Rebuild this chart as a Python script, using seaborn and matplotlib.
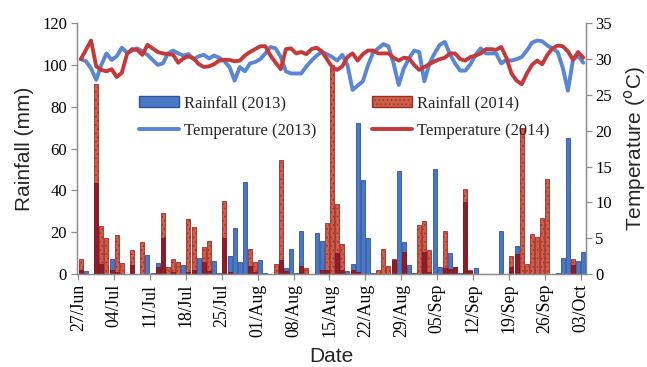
import numpy as np
import pandas as pd
import seaborn as sns
import matplotlib.pyplot as plt
from matplotlib.patches import Patch
from matplotlib.lines import Line2D

# daily rainfall (mm), 27 Jun .. 03 Oct
rain_2013 = [1.9, 1.2, 0, 43.8, 4.7, 0, 7.2, 1.0, 0, 0,
             4.2, 0, 0, 9.1, 0.4, 5.3, 17.1, 0, 1.0, 0,
             4.3, 1.0, 1.9, 7.7, 5.6, 1.2, 6.3, 0.5, 17.2, 8.8,
             21.8, 5.6, 44.2, 3.9, 1.0, 6.9, 0.3, 0, 0, 6.7,
             3.1, 12.0, 0.4, 20.6, 0, 0, 19.5, 15.8, 2.0, 0,
             10.2, 2.0, 1.6, 4.8, 72.2, 44.8, 17.3, 0.5, 0, 0,
             0, 6.8, 49.5, 15.2, 4.3, 0, 0, 10.5, 1.0, 50.4,
             3.2, 2.7, 9.9, 3.3, 0.7, 34.5, 1.5, 3.1, 0, 0,
             0, 0, 20.4, 0, 3.4, 13.6, 0, 0, 0, 0,
             0, 0, 0, 0.3, 7.8, 65.2, 4.3, 6.2, 10.7]
rain_2014 = [7.2, 0, 0, 91.0, 23.2, 17.3, 1.9, 18.8, 5.4, 0,
             11.5, 0, 15.2, 0, 0, 3.2, 29.4, 3.5, 7.0, 5.9,
             0, 26.5, 22.5, 0, 13.1, 16.0, 0, 0, 35.0, 0.8,
             0, 0, 0, 11.8, 5.9, 0, 0, 0, 4.6, 54.8,
             1.6, 0, 0, 3.9, 2.7, 0, 0, 1.9, 24.3, 100.0,
             33.7, 14.4, 0, 2.1, 1.0, 0, 0, 0, 1.9, 11.8,
             4.0, 7.0, 0, 10.4, 0, 0.5, 23.4, 25.4, 11.5, 0,
             0, 20.5, 2.5, 3.5, 0, 40.5, 1.7, 0, 0, 0,
             0, 0, 0, 0, 8.5, 9.6, 70.0, 4.9, 19.2, 17.6,
             26.7, 45.3, 0, 0, 0, 0, 7.0, 0, 0]

# daily mean temperature (degC)
temp_2013 = [30.0, 29.7, 28.7, 27.1, 29.2, 30.8, 29.9, 30.4, 31.6, 30.9,
             31.2, 31.5, 31.1, 30.6, 29.9, 29.2, 29.4, 30.8, 31.2, 30.8,
             30.5, 30.7, 30.0, 30.4, 30.6, 30.1, 30.5, 30.2, 29.7, 28.9,
             27.0, 28.9, 28.3, 29.4, 29.6, 30.0, 30.8, 31.7, 31.5, 30.3,
             28.3, 28.0, 28.0, 28.0, 29.0, 29.8, 30.5, 31.0, 30.7, 30.3,
             29.8, 30.6, 29.2, 25.7, 26.3, 26.9, 29.1, 30.9, 31.5, 32.1,
             31.8, 29.4, 26.4, 28.7, 30.1, 31.2, 31.0, 26.9, 29.4, 30.8,
             32.0, 32.4, 30.7, 29.4, 28.4, 28.4, 29.3, 30.6, 31.5, 30.8,
             30.8, 30.8, 29.4, 29.9, 29.8, 30.0, 30.3, 31.2, 32.3, 32.6,
             32.5, 31.9, 31.5, 31.0, 28.8, 25.6, 29.9, 30.5, 29.5]
temp_2014 = [30.0, 31.3, 32.6, 29.0, 28.5, 28.3, 28.6, 27.5, 28.1, 30.7,
             31.4, 31.3, 30.6, 32.0, 31.5, 31.0, 30.8, 30.7, 30.6, 29.5,
             30.1, 30.4, 30.1, 29.3, 28.9, 29.0, 29.3, 29.8, 29.9, 29.9,
             29.7, 29.8, 30.5, 31.0, 31.4, 31.8, 31.8, 30.5, 29.5, 28.6,
             31.4, 31.5, 30.8, 31.0, 30.7, 31.4, 31.6, 31.1, 30.0, 28.9,
             28.5, 29.0, 30.3, 30.8, 29.8, 30.7, 31.2, 31.2, 30.8, 30.8,
             30.8, 30.2, 29.8, 30.2, 30.1, 29.2, 28.5, 28.9, 29.3, 29.7,
             30.0, 30.2, 30.8, 30.8, 30.0, 29.8, 30.3, 30.5, 30.8, 31.4,
             31.4, 31.3, 31.7, 30.2, 28.0, 27.0, 26.5, 28.0, 29.2, 29.8,
             29.3, 30.6, 31.5, 31.9, 31.8, 31.1, 29.9, 31.0, 30.2]

date_labels = ["27/Jun", "04/Jul", "11/Jul", "18/Jul", "25/Jul", "01/Aug",
               "08/Aug", "15/Aug", "22/Aug", "29/Aug", "05/Sep", "12/Sep",
               "19/Sep", "26/Sep", "03/Oct"]

BLUE_BAR = "#4a78c6"
BLUE_EDGE = "#2c539c"
RED_BAR = "#cc5f4a"
RED_EDGE = "#a32a26"
OVERLAP = "#8e1d2c"
BLUE_LINE = "#5a86d4"
RED_LINE = "#c4393a"
AXIS_GRAY = "#8c8c8c"


def build_frame():
    df = pd.DataFrame({
        "day": np.arange(len(rain_2013)),
        "rain13": rain_2013,
        "rain14": rain_2014,
        "temp13": temp_2013,
        "temp14": temp_2014,
    })
    df["both"] = np.minimum(df["rain13"], df["rain14"])
    return df


def plot_chart(df):
    sns.set_style("white")
    plt.rcParams["font.family"] = ["Liberation Serif", "DejaVu Serif"]
    plt.rcParams["hatch.color"] = RED_EDGE
    plt.rcParams["hatch.linewidth"] = 0.5

    fig = plt.figure(figsize=(6.47, 3.67), dpi=100)
    ax = fig.add_axes([0.1185, 0.2534, 0.7867, 0.683])
    ax2 = ax.twinx()

    bar_kw = dict(x="day", native_scale=True, width=0.78, errorbar=None,
                  saturation=1, ax=ax)
    sns.barplot(data=df[df["rain13"] > 0], y="rain13", color=BLUE_BAR,
                edgecolor=BLUE_EDGE, linewidth=0.6, **bar_kw)
    sns.barplot(data=df[df["rain14"] > 0], y="rain14", color=RED_BAR,
                edgecolor=RED_EDGE, linewidth=0.6, hatch="....", **bar_kw)
    sns.barplot(data=df[df["both"] > 0], y="both", color=OVERLAP,
                edgecolor="#7a1622", linewidth=0.5, **bar_kw)

    sns.lineplot(data=df, x="day", y="temp13", color=BLUE_LINE,
                 linewidth=2.8, ax=ax2)
    sns.lineplot(data=df, x="day", y="temp14", color=RED_LINE,
                 linewidth=2.8, ax=ax2)

    tick_pos = np.arange(0, len(rain_2013), 7) - 0.5
    ax.set_xlim(-0.81, 98.47)
    ax.set_ylim(0, 120)
    ax.set_yticks(range(0, 121, 20))
    ax2.set_ylim(0, 35)
    ax2.set_yticks(range(0, 36, 5))
    ax.set_xticks(tick_pos)
    ax.set_xticklabels(date_labels, rotation=90)

    for a in (ax, ax2):
        a.tick_params(axis="both", labelsize=12, colors=AXIS_GRAY,
                      labelcolor="black", length=4, width=0.9,
                      direction="out")
        for side, sp in a.spines.items():
            sp.set_color(AXIS_GRAY)
            sp.set_linewidth(0.9)
        a.spines["top"].set_visible(False)
    ax.tick_params(axis="y", left=True, right=False, pad=3)
    ax.tick_params(axis="x", bottom=True, pad=3, labelsize=12.8)
    ax2.tick_params(axis="y", right=True, pad=3)

    sans = ["Liberation Sans", "DejaVu Sans"]
    ax.set_xlabel("Date", fontsize=15, family=sans)
    ax.xaxis.set_label_coords(0.5, -0.29)
    ax.set_ylabel("Rainfall (mm)", fontsize=15, family=sans, labelpad=6)
    ax2.set_ylabel(r"Temperature ($^{\rm o}$C)", fontsize=15, family=sans,
                   labelpad=7)

    handles = [
        Patch(facecolor=BLUE_BAR, edgecolor=BLUE_EDGE, label="Rainfall (2013)"),
        Line2D([], [], color=BLUE_LINE, linewidth=2.8, label="Temperature (2013)"),
        Patch(facecolor=RED_BAR, edgecolor=RED_EDGE, hatch="....",
              label="Rainfall (2014)"),
        Line2D([], [], color=RED_LINE, linewidth=2.8, label="Temperature (2014)"),
    ]
    ax2.legend(handles=handles, ncol=2, frameon=False, fontsize=12,
               loc="upper left", bbox_to_anchor=(0.11, 0.74),
               handlelength=2.4, handletextpad=0.3, columnspacing=3.3,
               labelspacing=0.68, borderaxespad=0)

    fig.savefig("out.png", dpi=100)


if __name__ == "__main__":
    plot_chart(build_frame())
